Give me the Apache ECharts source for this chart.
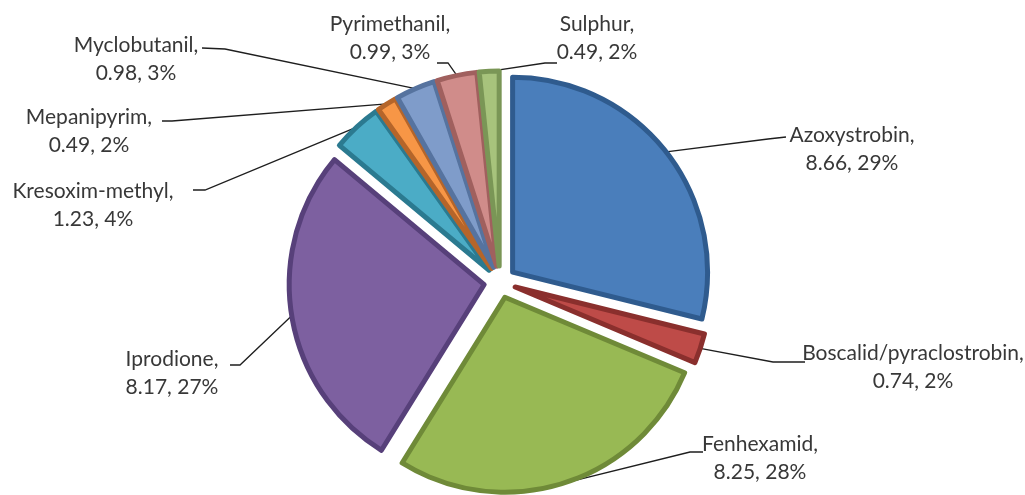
<!DOCTYPE html>
<html>
<head>
<meta charset="utf-8">
<script src="https://cdn.jsdelivr.net/npm/echarts@6/dist/echarts.min.js"></script>
<style>
html,body{margin:0;padding:0;background:#ffffff;}
#chart{width:1025px;height:495px;}
</style>
</head>
<body>
<div id="chart"></div>
<script>
// ---- data ----
const categories = ['Azoxystrobin', 'Boscalid/pyraclostrobin', 'Fenhexamid', 'Iprodione', 'Kresoxim-methyl', 'Mepanipyrim', 'Myclobutanil', 'Pyrimethanil', 'Sulphur'];
const values = [8.66, 0.74, 8.25, 8.17, 1.23, 0.49, 0.98, 0.99, 0.49];

// ---- styles / layout ----
const fillColors   = ['#4a7ebb', '#be4b48', '#98b954', '#7d60a0', '#4bacc6', '#f79646', '#7f9cca', '#d08c8a', '#a7c37c'];
const borderColors = ['#2f5b8e', '#8a2f2d', '#6f8a38', '#57407a', '#2b7a90', '#b5652a', '#56739f', '#a0605e', '#7a9656'];
// label block centres
const labelCenters = [[852, 149], [913, 367], [760, 458], [172, 373], [93, 205], [89, 131], [136, 59], [390, 38], [597, 38]];
// leader line elbow and end points
const lineElbows = [[768, 139], [773, 362], [690, 452], [240, 365], [205, 190], [172, 121], [225, 49], [448, 63], [545, 63]];
const lineEnds   = [[786, 137], [805, 362], [703, 452], [230, 365], [193, 190], [162, 121], [202, 48], [437, 63], [557, 63]];

const pieCenter = [500, 282];
const pieRadius = 195;
const explode = 16;

const total = values.reduce((a, b) => a + b, 0);
const midAngles = [];
let acc = 0;
values.forEach(v => { midAngles.push((acc + v / 2) / total * Math.PI * 2); acc += v; });

const chart = echarts.init(document.getElementById('chart'), null, {renderer: 'canvas'});

const series = values.map((v, i) => {
  const a = midAngles[i];
  const cx = pieCenter[0] + explode * Math.sin(a);
  const cy = pieCenter[1] - explode * Math.cos(a);
  return {
    type: 'pie',
    center: [cx, cy],
    radius: pieRadius,
    startAngle: 90,
    clockwise: true,
    percentPrecision: 0,
    avoidLabelOverlap: false,
    silent: true,
    animation: false,
    label: {
      show: true,
      position: 'outside',
      formatter: '{b},\n{c}, {d}%',
      fontFamily: 'Lato',
      fontSize: 21,
      lineHeight: 28,
      color: '#383838'
    },
    labelLine: {
      show: true,
      lineStyle: {color: '#1e1e1e', width: 1.3}
    },
    labelLayout: function (p) {
      const k = p.dataIndex;
      const p0 = [cx + pieRadius * Math.sin(a), cy - pieRadius * Math.cos(a)];
      return {
        x: labelCenters[k][0],
        y: labelCenters[k][1],
        align: 'center',
        verticalAlign: 'middle',
        labelLinePoints: [p0, lineElbows[k], lineEnds[k]]
      };
    },
    data: categories.map((name, j) => ({
      name: name,
      value: values[j],
      itemStyle: j === i
        ? {color: fillColors[j], borderColor: borderColors[j], borderWidth: 5, borderJoin: 'round'}
        : {color: 'rgba(0,0,0,0)', borderWidth: 0},
      label: {show: j === i},
      labelLine: {show: j === i}
    }))
  };
});

chart.setOption({
  backgroundColor: '#ffffff',
  animation: false,
  series: series
});
</script>
</body>
</html>
